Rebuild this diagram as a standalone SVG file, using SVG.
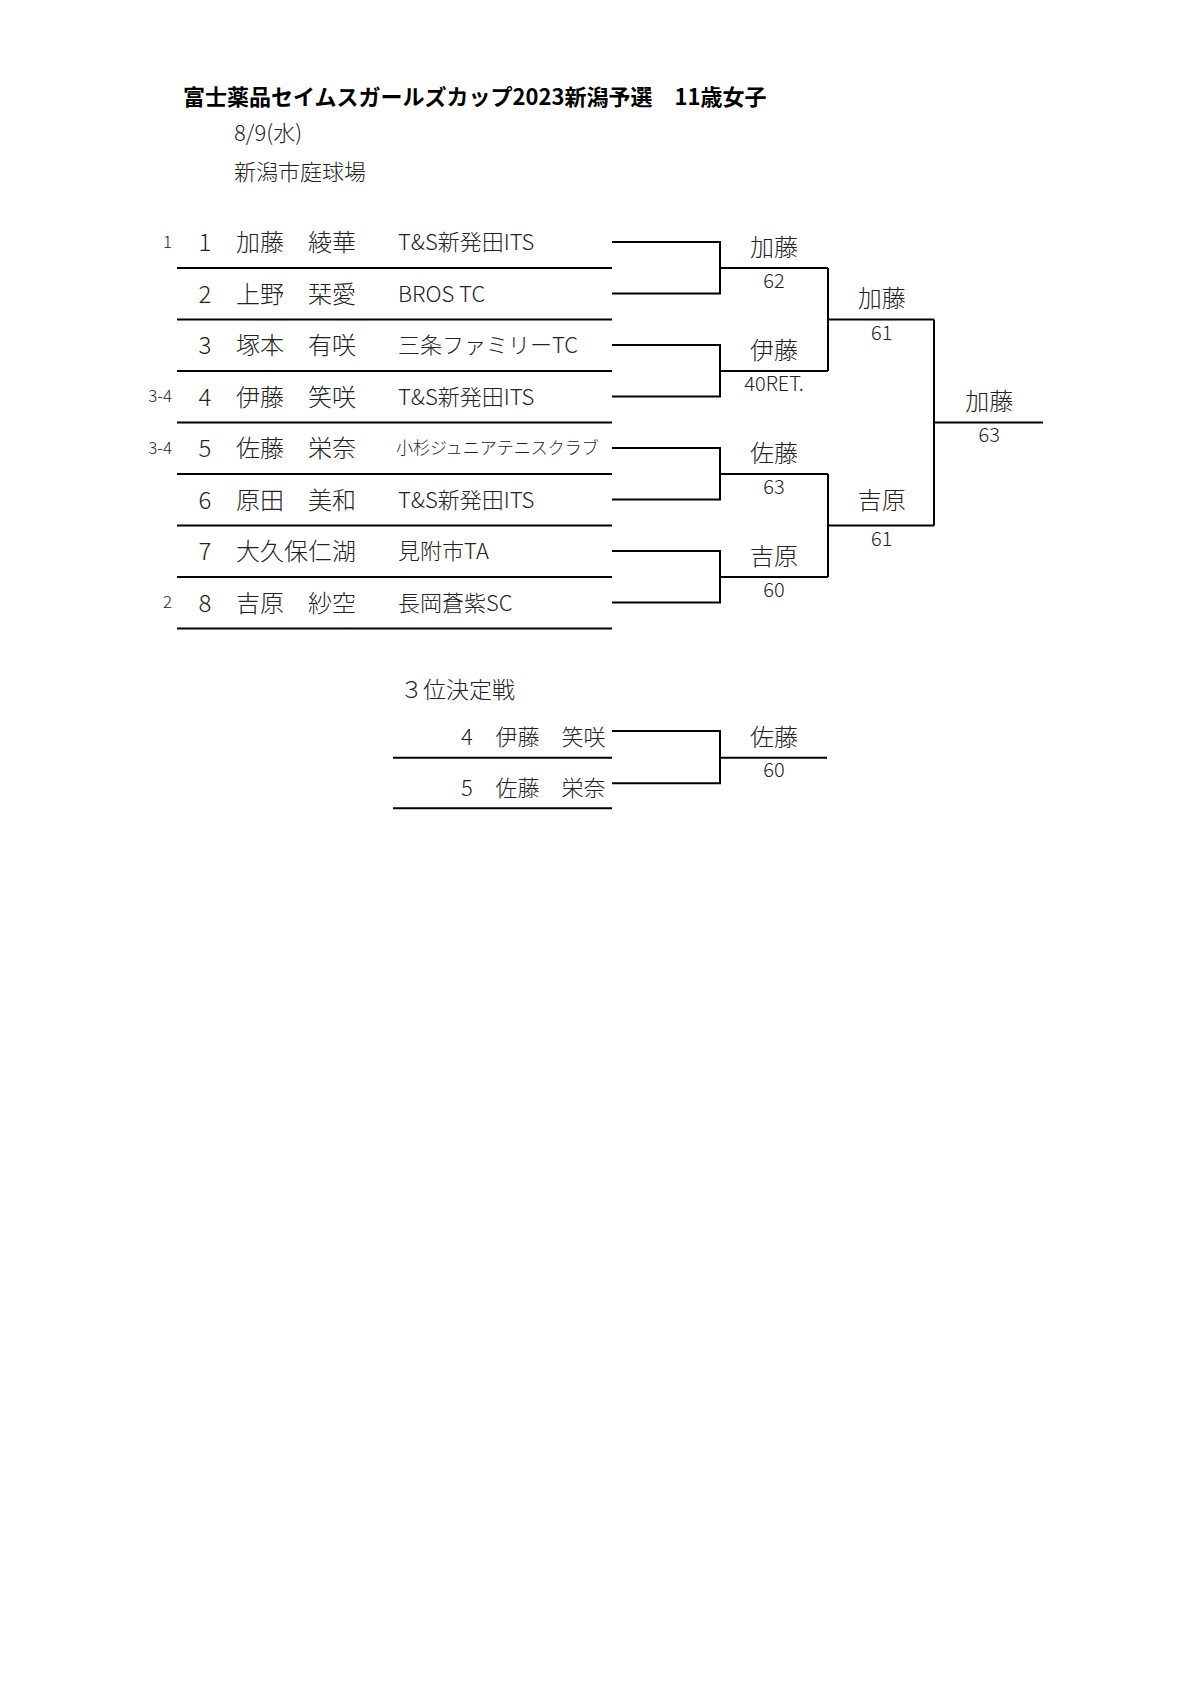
<svg xmlns="http://www.w3.org/2000/svg" width="1200" height="1697" viewBox="0 0 1200 1697">
<style>
text{font-family:"Noto Sans CJK JP","Noto Sans",sans-serif;fill:#222;font-weight:300}
.title{font-size:22px;font-weight:700;fill:#000}
.hd{font-size:22px}
.seed{font-size:17px;text-anchor:end}
.num{font-size:24px;text-anchor:middle}
.nm{font-size:24px}
.club{font-size:22px}
.small{font-size:17px}
.win{font-size:24px;text-anchor:middle}
.sc{font-size:20px;text-anchor:middle}
.tnum{font-size:22px;text-anchor:middle}
.tnm{font-size:22px}
.ln{stroke:#000;stroke-width:2;fill:none}
</style>
<rect width="1200" height="1697" fill="#fff"/>
<g id="header">
<text class="title" x="183" y="105">富士薬品セイムスガールズカップ2023新潟予選　11歳女子</text>
<text class="hd" x="234" y="141">8/9(水)</text>
<text class="hd" x="234" y="180">新潟市庭球場</text>
</g>
<g id="connectors">
<path class="ln" d="M177 268H612M177 319.5H612M177 371H612M177 422.5H612M177 474H612M177 525.5H612M177 577H612M177 628.5H612"/>
<path class="ln" d="M612 242H720V293.5H612M720 268H828"/>
<path class="ln" d="M612 345H720V396.5H612M720 371H828"/>
<path class="ln" d="M612 448H720V499.5H612M720 474H828"/>
<path class="ln" d="M612 551H720V602.5H612M720 577H828"/>
<path class="ln" d="M828 268V371M828 319.5H934"/>
<path class="ln" d="M828 474V577M828 525.5H934"/>
<path class="ln" d="M934 319.5V525.5M934 422.5H1043"/>
<path class="ln" d="M393 757.7H612M393 808.3H612"/>
<path class="ln" d="M612 731H720V783.3H612M720 757.7H827"/>
</g>
<g id="p1"><text class="seed" x="172" y="247.5">1</text><text class="num" x="205" y="251">1</text><text class="nm" x="236" y="251">加藤　綾華</text><text class="club" x="398" y="250">T&amp;S新発田ITS</text></g>
<g id="p2"><text class="num" x="205" y="302.5">2</text><text class="nm" x="236" y="302.5">上野　栞愛</text><text class="club" x="398" y="301.5">BROS TC</text></g>
<g id="p3"><text class="num" x="205" y="354">3</text><text class="nm" x="236" y="354">塚本　有咲</text><text class="club" x="398" y="353">三条ファミリーTC</text></g>
<g id="p4"><text class="seed" x="172" y="402">3-4</text><text class="num" x="205" y="405.5">4</text><text class="nm" x="236" y="405.5">伊藤　笑咲</text><text class="club" x="398" y="404.5">T&amp;S新発田ITS</text></g>
<g id="p5"><text class="seed" x="172" y="453.5">3-4</text><text class="num" x="205" y="457">5</text><text class="nm" x="236" y="457">佐藤　栄奈</text><text class="small" x="396" y="454">小杉ジュニアテニスクラブ</text></g>
<g id="p6"><text class="num" x="205" y="508.5">6</text><text class="nm" x="236" y="508.5">原田　美和</text><text class="club" x="398" y="507.5">T&amp;S新発田ITS</text></g>
<g id="p7"><text class="num" x="205" y="560">7</text><text class="nm" x="236" y="560">大久保仁湖</text><text class="club" x="398" y="559">見附市TA</text></g>
<g id="p8"><text class="seed" x="172" y="608">2</text><text class="num" x="205" y="611.5">8</text><text class="nm" x="236" y="611.5">吉原　紗空</text><text class="club" x="398" y="610.5">長岡蒼紫SC</text></g>
<g id="r1a"><text class="win" x="774" y="255.5">加藤</text><text class="sc" x="774" y="287.5">62</text></g>
<g id="r1b"><text class="win" x="774" y="358.5">伊藤</text><text class="sc" x="774" y="390.5">40RET.</text></g>
<g id="r1c"><text class="win" x="774" y="461.5">佐藤</text><text class="sc" x="774" y="493.5">63</text></g>
<g id="r1d"><text class="win" x="774" y="564.5">吉原</text><text class="sc" x="774" y="596.5">60</text></g>
<g id="r2a"><text class="win" x="881.7" y="307">加藤</text><text class="sc" x="881.7" y="339.5">61</text></g>
<g id="r2b"><text class="win" x="881.7" y="509">吉原</text><text class="sc" x="881.7" y="545.5">61</text></g>
<g id="final"><text class="win" x="989.3" y="410">加藤</text><text class="sc" x="989.3" y="442">63</text></g>
<g id="third">
<text class="hd" x="400" y="698" style="font-size:23px">３位決定戦</text>
<text class="tnum" x="467" y="745">4</text><text class="tnm" x="495.5" y="745">伊藤　笑咲</text>
<text class="tnum" x="467" y="796">5</text><text class="tnm" x="495.5" y="796">佐藤　栄奈</text>
<text class="win" x="774" y="745.5">佐藤</text><text class="sc" x="774" y="777">60</text>
</g>
</svg>
